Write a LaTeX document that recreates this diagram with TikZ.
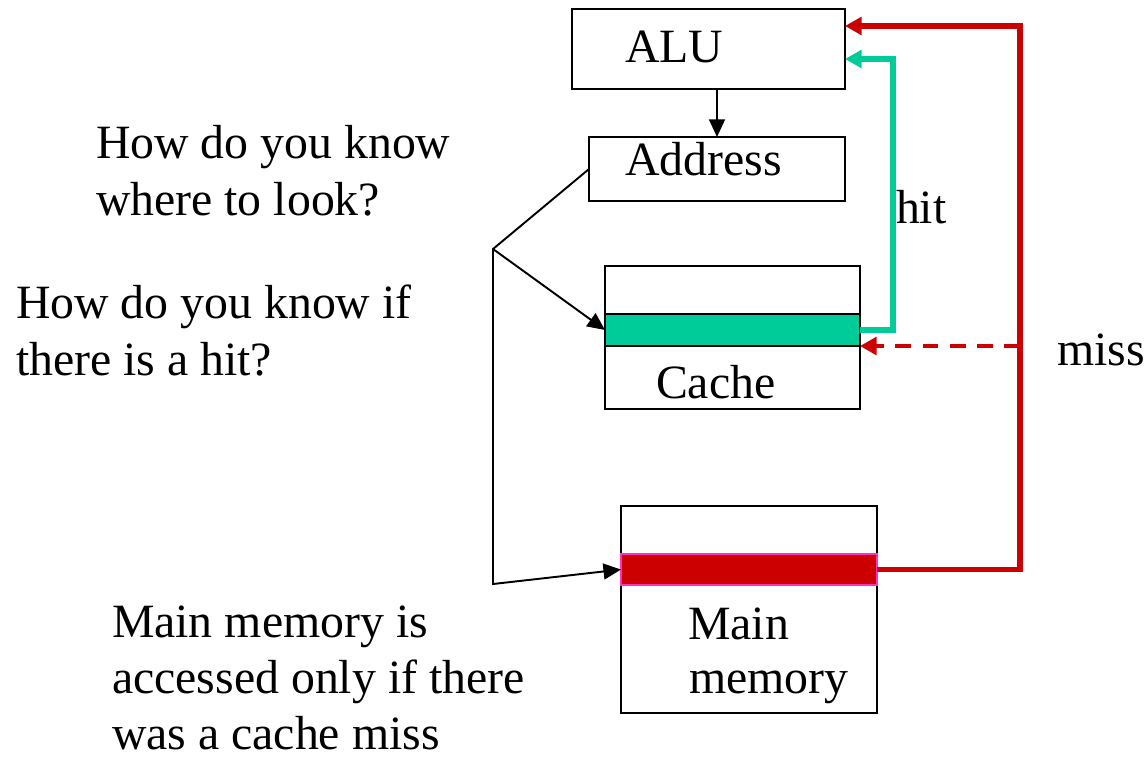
\documentclass[tikz,border=0pt]{standalone}
\usepackage{fontspec}
\setmainfont{Liberation Serif}
\usetikzlibrary{arrows.meta}
\definecolor{hitgreen}{HTML}{00CC99}
\definecolor{missred}{HTML}{CC0000}
\definecolor{rimpink}{HTML}{FF33BB}
\begin{document}
\begin{tikzpicture}[x=0.02cm,y=-0.02cm,
  box/.style={draw=black, line width=1.3pt, fill=white, inner sep=0, outer sep=0},
  lbl/.style={anchor=base west, inner sep=0, outer sep=0, font=\fontsize{27.2}{32}\selectfont},
  wire/.style={draw=black, line width=1.1pt},
  link/.style={wire, -{Triangle[length=10pt,width=9pt]}},
  feed/.style={line width=3.3pt, -{Triangle[length=9.5pt,width=10pt]}},
  hitline/.style={feed, draw=hitgreen, color=hitgreen},
  missline/.style={feed, draw=missred, color=missred}]
\useasboundingbox (0,0) rectangle (1145,757);

% blocks
\node[box, minimum width=5.46cm, minimum height=1.6cm] (alu) at (708.5,49) {};
\node[box, minimum width=5.12cm, minimum height=1.28cm] (addr) at (717,169) {};
\node[box, minimum width=5.1cm, minimum height=2.86cm] (cache) at (732.5,337.5) {};
\node[box, fill=hitgreen, minimum width=5.1cm, minimum height=0.64cm] (cbar) at (732.5,330) {};
\node[box, minimum width=5.12cm, minimum height=4.14cm] (mem) at (749,609.5) {};
\node[box, draw=rimpink, fill=missred, line width=1.1pt, minimum width=5.12cm, minimum height=0.62cm] (mbar) at (749,569.5) {};

% block labels
\node[lbl] (alut) at (625,63) {ALU};
\node[lbl] (addrt) at (625,175) {Address};
\node[lbl] (cachet) at (656,398) {Cache};
\node[lbl] (memt1) at (688,639) {Main};
\node[lbl] (memt2) at (689,693) {memory};

% address fan-out
\coordinate (fork) at (493,249);
\coordinate (foot) at (493,584);
\draw[link] (alu.south -| addr.north) -- (addr.north);
\draw[link] (addr.west) -- (fork) -- (foot) -- (mbar.west);
\draw[link] (fork) -- (cbar.west);

% hit and miss return paths
\coordinate (gtop) at (893,59);
\coordinate (rtop) at (1020,26);
\coordinate (rmid) at (1020,346);
\draw[hitline] (cbar.east) -| (gtop) -- (gtop -| alu.east);
\draw[missline] (mbar.east) -| (rtop) -- (rtop -| alu.east);
\draw[missline, line width=2.4pt, dash pattern=on 9pt off 6.5pt] (rmid) -- (rmid -| cache.east);

\node[lbl] (hitt) at (896,223) {hit};
\node[lbl] (misst) at (1057,365) {miss};

% questions and note
\node[lbl] (q1a) at (96,158) {How do you know};
\node[lbl] (q1b) at (96,215) {where to look?};
\node[lbl] (q2a) at (16,318) {How do you know if};
\node[lbl] (q2b) at (16,375) {there is a hit?};
\node[lbl] (n1) at (112,637) {Main memory is};
\node[lbl] (n2) at (112,693) {accessed only if there};
\node[lbl] (n3) at (112,749) {was a cache miss};
\end{tikzpicture}
\end{document}
